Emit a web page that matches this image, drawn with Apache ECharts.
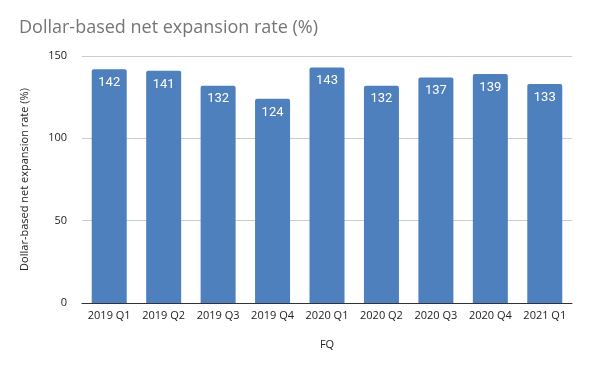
<!DOCTYPE html>
<html><head><meta charset="utf-8">
<script src="https://cdn.jsdelivr.net/npm/echarts@6/dist/echarts.min.js"></script>
<style>html,body{margin:0;padding:0;background:#fff}#c{width:600px;height:371px}</style>
</head><body><div id="c"></div>
<script>
const categories = ['2019 Q1','2019 Q2','2019 Q3','2019 Q4','2020 Q1','2020 Q2','2020 Q3','2020 Q4','2021 Q1'];
const values = [142,141,132,124,143,132,137,139,133];
const yTicks = {min:0, max:150, interval:50};

const chart = echarts.init(document.getElementById('c'), null, {renderer:'canvas'});
chart.setOption({
  animation:false,
  title:{
    text:'Dollar-based net expansion rate (%)',
    left:19, top:19, padding:0,
    textStyle:{fontFamily:'Open Sans', fontSize:18, fontWeight:'normal', color:'#757575'}
  },
  grid:{left:82, right:28, top:56, bottom:68},
  xAxis:{
    type:'category', data:categories,
    name:'FQ', nameLocation:'middle', nameGap:36,
    nameTextStyle:{fontFamily:'Open Sans', fontSize:11, color:'#222'},
    axisLine:{lineStyle:{color:'#333'}},
    axisTick:{show:false},
    axisLabel:{fontFamily:'Open Sans', fontSize:11, color:'#222', margin:7, interval:0}
  },
  yAxis:{
    type:'value', min:yTicks.min, max:yTicks.max, interval:yTicks.interval,
    name:'Dollar-based net expansion rate (%)', nameLocation:'middle', nameGap:52,
    nameTextStyle:{fontFamily:'Open Sans', fontSize:11, color:'#222'},
    axisLine:{show:false}, axisTick:{show:false},
    axisLabel:{fontFamily:'Open Sans', fontSize:11, color:'#222', margin:15},
    splitLine:{lineStyle:{color:'#cccccc'}}
  },
  series:[{
    type:'bar', data:values, barWidth:35,
    itemStyle:{color:'#4e80bd', borderRadius:[2,2,0,0]},
    label:{show:true, position:'insideTop', distance:7, color:'#fff', fontFamily:'Roboto', fontSize:13}
  }]
});
</script></body></html>
